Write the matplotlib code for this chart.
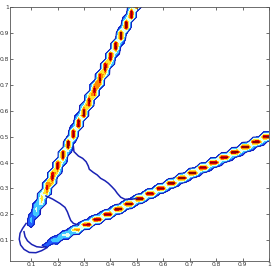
import numpy as np
import matplotlib
matplotlib.use('Agg')
import matplotlib.pyplot as plt

# grid the surface was sampled on (coarse, hence the beaded ridges)
grid_start, grid_stop, grid_step = 0.02, 1.0, 0.02

# ridge 1 (steep): x = slope * y + offset
ridge1_slope, ridge1_offset = 0.475, 0.0175
# ridge 2 (shallow): y = slope * x + offset
ridge2_slope, ridge2_offset = 0.497, 0.0065
ridge_width, ridge_power = 0.0117, 5
# ridge strength fades in with distance from the origin
fade_r0, fade_r1 = 0.14, 0.36

levels = [0.1, 0.25, 0.45, 0.6, 0.72, 0.84, 0.94, 1.2]
fill_colors = ['#2060ff', '#40c8ff', '#e4fff2', '#ffe52e', '#ff8a00', '#e00000', '#8c0000']
edge_color = '#1414b4'

# paths drawn over the surface
path1_x = [0.260, 0.262, 0.279, 0.295, 0.308, 0.316, 0.320, 0.335, 0.350, 0.363,
           0.379, 0.392, 0.405, 0.417, 0.426, 0.439, 0.455, 0.480, 0.499]
path1_y = [0.461, 0.442, 0.425, 0.416, 0.403, 0.387, 0.374, 0.362, 0.352, 0.339,
           0.330, 0.320, 0.307, 0.294, 0.281, 0.266, 0.258, 0.258, 0.262]
path2_x = [0.156, 0.181, 0.209, 0.228, 0.237, 0.244, 0.250, 0.260, 0.279]
path2_y = [0.271, 0.259, 0.242, 0.227, 0.210, 0.191, 0.176, 0.165, 0.159]
path3_x = [0.081, 0.068, 0.058, 0.055, 0.060, 0.073, 0.093, 0.118, 0.140, 0.159]
path3_y = [0.165, 0.146, 0.127, 0.104, 0.082, 0.065, 0.053, 0.052, 0.060, 0.071]
path4_x = [0.073, 0.077, 0.086, 0.102, 0.121, 0.140, 0.156]
path4_y = [0.133, 0.114, 0.098, 0.084, 0.075, 0.073, 0.075]
path_color = '#1a22b4'

ticks = [0.1, 0.2, 0.3, 0.4, 0.5, 0.6, 0.7, 0.8, 0.9, 1.0]
tick_labels = ['0.1', '0.2', '0.3', '0.4', '0.5', '0.6', '0.7', '0.8', '0.9', '1']

g = np.arange(grid_start, grid_stop + grid_step / 2, grid_step)
X, Y = np.meshgrid(g, g)
d1 = (X - (ridge1_slope * Y + ridge1_offset)) / np.hypot(1, ridge1_slope)
d2 = (Y - (ridge2_slope * X + ridge2_offset)) / np.hypot(1, ridge2_slope)
R = np.hypot(X, Y)
fade = np.clip((R - fade_r0) / (fade_r1 - fade_r0), 0, 1)
Z = fade * np.maximum(np.exp(-np.abs(d1 / ridge_width) ** ridge_power),
                      np.exp(-np.abs(d2 / ridge_width) ** ridge_power))

fig = plt.figure(figsize=(2.73, 2.73), dpi=100)
ax = fig.add_axes([10 / 273, 12 / 273, 259 / 273, 254 / 273])
ax.contourf(X, Y, Z, levels=levels, colors=fill_colors)
ax.contour(X, Y, Z, levels=[levels[0]], colors=edge_color, linewidths=0.7)

for px, py in [(path1_x, path1_y), (path2_x, path2_y), (path3_x, path3_y), (path4_x, path4_y)]:
    ax.plot(px, py, color=path_color, lw=1.1)

ax.set_xlim(grid_start, grid_stop)
ax.set_ylim(grid_start, grid_stop)
ax.set_xticks(ticks)
ax.set_xticklabels(tick_labels)
ax.set_yticks(ticks)
ax.set_yticklabels(tick_labels)
ax.tick_params(direction='in', length=2.5, width=0.5, labelsize=4.3, pad=0.8,
               top=True, right=True, colors='#333333')
for s in ax.spines.values():
    s.set_linewidth(0.6)
    s.set_color('#555555')

fig.savefig('out.png', dpi=100)
